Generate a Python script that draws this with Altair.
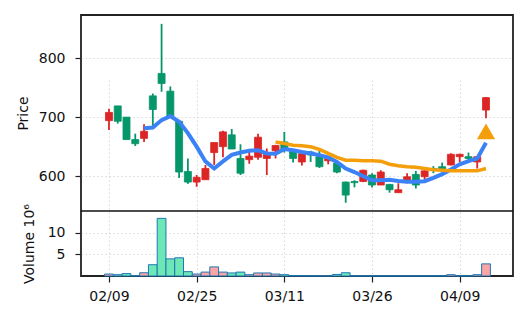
import json
import altair as alt
import pandas as pd

# ---- data ----
idx = list(range(44))
opens = [694, 719, 700, 662, 664, 736, 774, 744, 693, 608,
         590, 594, 640, 650, 670, 630, 628, 632, 630, 643,
         658, 644, 624, 641, 633, 626, 622, 590, 591, 591,
         602, 585, 586, 572, 590, 603, 599, 613, 616, 619,
         633, 633, 624, 712]
closes = [708, 693, 662, 655, 676, 713, 757, 701, 607, 590,
          598, 613, 657, 675, 646, 605, 634, 666, 637, 652,
          644, 630, 638, 636, 616, 632, 607, 568, 589, 610,
          585, 607, 577, 577, 599, 585, 609, 611, 611, 637,
          637, 630, 633, 733]
highs = [714, 719, 700, 672, 688, 740, 858, 752, 693, 630,
         602, 619, 657, 677, 680, 654, 641, 672, 647, 653,
         675, 646, 640, 643, 644, 634, 625, 591, 593, 611,
         605, 610, 587, 588, 605, 609, 610, 617, 623, 639,
         638, 640, 634, 734]
lows = [678, 689, 662, 651, 658, 681, 743, 701, 597, 587,
        582, 594, 619, 632, 646, 602, 621, 628, 602, 630,
        640, 623, 618, 624, 614, 620, 605, 555, 581, 590,
        581, 585, 572, 572, 588, 579, 593, 605, 607, 618,
        624, 624, 613, 698]
volumes = [0.45, 0.3, 0.55, 0.1, 0.75, 2.6, 13.3, 3.95, 4.2, 1.0,
           0.45, 0.9, 2.1, 0.9, 0.7, 0.9, 0.3, 0.7, 0.7, 0.45,
           0.3, 0.1, 0.05, 0.05, 0.05, 0.05, 0.35, 0.75, 0.05, 0.05,
           0.05, 0.05, 0.05, 0.05, 0.05, 0.05, 0.05, 0.05, 0.05, 0.3,
           0.05, 0.05, 0.3, 2.8]
ma5_idx = list(range(4, 44))
ma5 = [681, 682.5, 695, 701.7, 692, 673, 650, 625, 613, 625,
       636, 640, 643, 644, 638.5, 638, 646, 644, 641, 638.5,
       635.6, 631.7, 624, 613, 607, 600, 593, 593, 594, 592,
       590.5, 590.5, 591.5, 597, 603.5, 611.4, 620, 625.4, 630, 656.5]
ma20_idx = list(range(19, 44))
ma20 = [658, 655.4, 652.5, 651.4, 649.7, 645.4, 638.5, 631.7, 627, 627,
        626, 626, 625.4, 620.3, 617.5, 616, 615, 613, 611, 610,
        609, 609, 609, 609, 613]
signal_idx = [43]
signal_price = [676]
tick_idx = [0, 10, 20, 30, 40]
tick_labels = ["02/09", "02/25", "03/11", "03/26", "04/09"]

RED = "#dc2626"
GREEN = "#059669"
VRED = "#fca5a5"
VGREEN = "#6ee7b7"

df = pd.DataFrame({"i": idx, "open": opens, "close": closes, "high": highs,
                   "low": lows, "vol": volumes})
df["dir"] = ["up" if c >= o else "down" for o, c in zip(opens, closes)]
df_ma5 = pd.DataFrame({"i": ma5_idx, "ma": ma5})
df_ma20 = pd.DataFrame({"i": ma20_idx, "ma": ma20})
df_sig = pd.DataFrame({"i": signal_idx, "p": signal_price})

W, H = 432, 261
PH = 196

xscale = alt.Scale(domain=[-3.19, 46.08], nice=False, zero=False)
label_expr = f"{json.dumps(tick_labels)}[indexof({json.dumps(tick_idx)}, datum.value)]"
xaxis = alt.Axis(values=tick_idx, labelExpr=label_expr, grid=True, title=None,
                 tickSize=6, labelPadding=7)

pscale = alt.Scale(domain=[541, 873], range=[PH, 0], nice=False, zero=False)
paxis = alt.Axis(values=[600, 700, 800], title="Price", grid=True, orient="left",
                 tickSize=6, labelPadding=10, titleX=-54, titleBaseline="alphabetic")

vscale = alt.Scale(domain=[0, 15], range=[H, PH], nice=False, zero=False)
vaxis = alt.Axis(values=[5, 10], title="Volume  10⁶", grid=True, orient="left",
                 tickSize=6, labelPadding=10, titleX=-48, titleBaseline="alphabetic")

color = alt.Color("dir:N", scale=alt.Scale(domain=["up", "down"], range=[RED, GREEN]),
                  legend=None)
vcolor = alt.Color("dir:N", scale=alt.Scale(domain=["up", "down"], range=[VRED, VGREEN]),
                   legend=None)

base = alt.Chart(df)

wicks = base.mark_rule(strokeWidth=1.8).encode(
    x=alt.X("i:Q", scale=xscale, axis=xaxis),
    y=alt.Y("low:Q", scale=pscale, axis=paxis),
    y2="high:Q",
    color=color,
)
bodies = base.transform_calculate(x1="datum.i - 0.4", x2="datum.i + 0.4").mark_bar(
    strokeWidth=0.8
).encode(
    x=alt.X("x1:Q", scale=xscale, axis=xaxis),
    x2="x2:Q",
    y=alt.Y("open:Q", scale=pscale, axis=paxis),
    y2="close:Q",
    color=color,
    stroke=color,
)
line5 = alt.Chart(df_ma5).mark_line(color="#3b82f6", strokeWidth=4).encode(
    x=alt.X("i:Q", scale=xscale, axis=xaxis),
    y=alt.Y("ma:Q", scale=pscale, axis=paxis),
)
line20 = alt.Chart(df_ma20).mark_line(color="#f59e0b", strokeWidth=3.5).encode(
    x=alt.X("i:Q", scale=xscale, axis=xaxis),
    y=alt.Y("ma:Q", scale=pscale, axis=paxis),
)
sig = alt.Chart(df_sig).mark_point(shape="triangle-up", filled=True, size=330,
                                   color="#f59e0b", opacity=1).encode(
    x=alt.X("i:Q", scale=xscale, axis=xaxis),
    y=alt.Y("p:Q", scale=pscale, axis=paxis),
)
price = alt.layer(wicks, bodies, line5, line20, sig)

vol = base.transform_calculate(v1="datum.i - 0.5", v2="datum.i + 0.5").mark_bar(
    stroke="#1f77b4", strokeWidth=1
).encode(
    x=alt.X("v1:Q", scale=xscale, axis=xaxis),
    x2="v2:Q",
    y=alt.Y("vol:Q", scale=vscale, axis=vaxis),
    y2=alt.datum(0),
    color=vcolor,
)

divider = alt.Chart(pd.DataFrame({"a": [0]})).mark_rule(color="#111", strokeWidth=1.5).encode(
    x=alt.value(0), x2=alt.value(W), y=alt.value(PH)
)

chart = alt.layer(price, vol, divider).resolve_scale(
    y="independent", color="independent"
).properties(
    width=W, height=H,
    autosize=alt.AutoSizeParams(type="none"),
    padding={"left": 81, "top": 15, "right": 15, "bottom": 46},
).configure_view(
    stroke="#222", strokeWidth=1.8
).configure_axis(
    labelFont="DejaVu Sans", titleFont="DejaVu Sans", labelFontSize=14,
    titleFontSize=14, titleFontWeight="normal", labelColor="#111", titleColor="#111",
    tickColor="#222", tickWidth=1.2, domain=False, gridColor="#d9d9d9",
    gridDash=[1.5, 2.5], gridWidth=1,
)

chart.save("out.html", embed_options={"renderer": "svg", "actions": False})
